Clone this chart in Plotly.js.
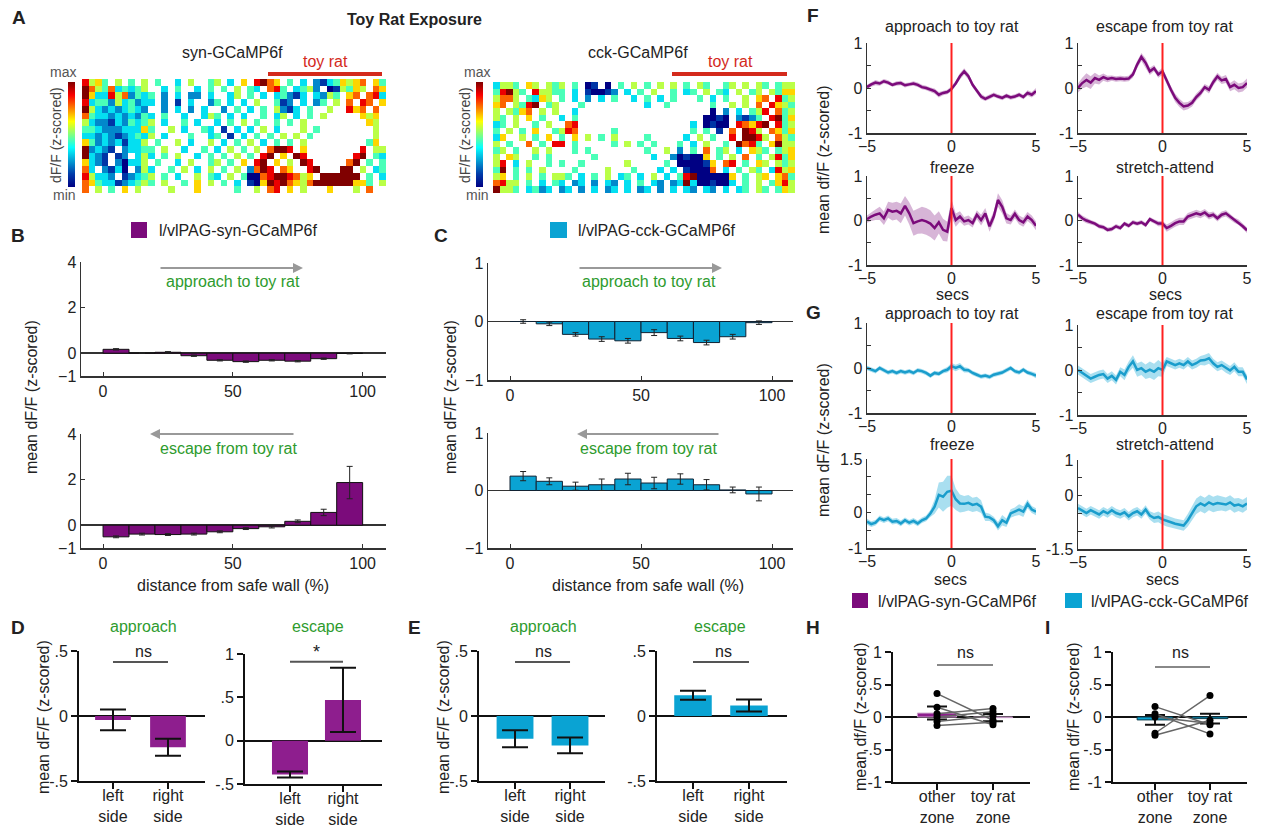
<!DOCTYPE html>
<html><head><meta charset="utf-8">
<script src="https://cdn.plot.ly/plotly-3.0.1.min.js"></script>
<style>html,body{margin:0;padding:0;background:#fff}#chart{width:1270px;height:827px}</style>
</head><body><div id="chart"></div>
<script>
// ---------------- DATA ----------------
// Panel A heatmaps: one string per arena row, one char per cell ('.' = not visited, 0..9 = low..high dF/F)
const SYN_ROWS = [
"8564.5.4.5 .4..3.5..4 5.3.6.8976 .4.3.21346 567.64",
"9754734345 ..3.4..3.4 .4.5.43.78 4.3452.015 465.76",
"9633857243 4.2.3.22.3 ..35.4.3.3 4213.3254. 67.783",
"8344253423 3.2.1.3..2 4.3.3.5..4 12.3.24.5. 7.87.6",
"9532323432 ..2.3.2.3. .2.4.3.4.5 213.4..5.. 867.7.",
"7433232324 3.4..3..35 4.3.3..4.3 5.3.4.5... ..656.",
"5322132434 5.3..4.3.. 3.4.5.4..4 .4.5...... ...65.",
"4432223336 4..5.3..43 .1.3.3.5.3 ...5.4.... ....5.",
"3323212343 5.3...4..3 4.1.3.4.4. 5.5.4..... ....5.",
"6423231335 .4..5.3..5 .3.4.5.3.4 .4.5...... ...46.",
"92321.2334 4.5..3..4. 3.5.4.5.79 98.6...... ..8.55",
"9321.12.35 3.4.5..3.4 .4.5.4.89. 6.98...... .89.43",
"6321.20335 .4..3.5..4 5.4.6.89.6 .5.98..... 79.4.4",
"73.2130.25 3..4.5.3.5 .4.5.2798. 76..89...9 9.5.34",
"85332.1234 5.4.3..5.4 3.5.400789 98756.9999 99.4.3",
"7643312345 4.5..4.6.5 .4.3.10698 9765799999 9664.5",
"7.5.4.6.5. ...5...6.. ...4..5.78 .6.5...6.. .5.7.."
];
const CCK_ROWS = [
"3554.65.54 5.4.01.0.4 .5.4.5.5.4 .54..45.5. 54.455",
"48954.8554 4.3.10012. 3.4.5..4.3 4.5.43.5.4 5.5466",
"5775.4365. 4.3.2.3.4. .3.4.3.4.. .4.3.4..5. 67.845",
"67.5489.45 ...4...... ...3..4... ...4..5.5. 7.8654",
"5.5467.5.5 ..3....... .......... ...0.2.3.4 58.745",
"54.5.6.4.. 3.4....... .......... ..0010.212 4.8946",
"34.5..4.5. .78....... .......... 3.0100.876 89.845",
"4.5.4.6..4 587.....4. .......... 4.4.1.7.98 5.7646",
"36..5.4.6. 4.6.5.4.5. ...4.....3 .5.4..8.99 85.754",
"5.4..7.4.8 8.4.....4. 5.4.4...4. 3.5..4.978 4.6955",
"45.4..5.5. ..4.4..... ...4..5.2. 4.7.45.3.6 54.456",
"5.65..4.4. .....4.... ....3..201 006.4.5.7. 4.5846",
"58.3.5..4. 4..4...... 5.....4.00 0016.78.4. 65.545",
"49.4.4.5.. ..4....5.. .4...3.3.1 0007.3.4.5 4.3856",
"56.4.5.4.5 54.3.4.5.3 4.3.5.3.48 9000006.4. 56.674",
"7855.4.3.4 3.23.2.32. 3.4.32.239 3001003.4. 5.4685",
"9554.3423. 23.2.3.23. 3.23.2.3.3 2.32.3.34. 54.465"
];

// Panels B / C: distance bins (% from safe wall)
const BIN_CENTERS = [5,15,25,35,45,55,65,75,85,95];
const B_APPROACH = [0.17,0.01,0.04,-0.11,-0.31,-0.37,-0.31,-0.35,-0.24,-0.01];
const B_APPROACH_ERR = [0.03,0.02,0.03,0.03,0.03,0.03,0.03,0.03,0.03,0.02];
const B_ESCAPE = [-0.51,-0.39,-0.41,-0.39,-0.29,-0.15,-0.07,0.17,0.56,1.87];
const B_ESCAPE_ERR = [0.04,0.04,0.04,0.04,0.04,0.04,0.05,0.06,0.14,0.71];
const C_APPROACH = [0.0,-0.04,-0.22,-0.30,-0.33,-0.19,-0.29,-0.36,-0.26,-0.02];
const C_APPROACH_ERR = [0.03,0.03,0.03,0.04,0.04,0.05,0.04,0.04,0.04,0.03];
const C_ESCAPE = [0.25,0.16,0.075,0.10,0.20,0.13,0.20,0.10,0.01,-0.06];
const C_ESCAPE_ERR = [0.08,0.06,0.07,0.10,0.10,0.10,0.09,0.09,0.05,0.12];

// Panels D / E
const SIDE_LABELS = ['left<br>side','right<br>side'];
const D_APPROACH = [-0.03,-0.24];  const D_APPROACH_ERR = [0.08,0.065];
const D_ESCAPE = [-0.39,0.47];     const D_ESCAPE_ERR = [0.035,0.37];
const E_APPROACH = [-0.175,-0.226]; const E_APPROACH_ERR = [0.065,0.06];
const E_ESCAPE = [0.16,0.08];      const E_ESCAPE_ERR = [0.035,0.046];

// Panels F / G: peri-event traces
const TIME = [-5,-4.75,-4.5,-4.25,-4,-3.75,-3.5,-3.25,-3,-2.75,-2.5,-2.25,-2,-1.75,-1.5,-1.25,-1,-0.75,-0.5,-0.25,0,0.25,0.5,0.75,1,1.25,1.5,1.75,2,2.25,2.5,2.75,3,3.25,3.5,3.75,4,4.25,4.5,4.75,5];
const F_APPROACH = [0.02,0.08,0.12,0.10,0.15,0.12,0.07,0.10,0.11,0.06,0.08,0.10,0.07,0.02,0.00,-0.04,-0.07,-0.15,-0.11,-0.09,-0.02,0.10,0.26,0.37,0.26,0.07,-0.07,-0.19,-0.24,-0.20,-0.15,-0.19,-0.22,-0.17,-0.21,-0.19,-0.15,-0.20,-0.11,-0.15,-0.07];
const F_APPROACH_SEM = [0.05,0.05,0.06,0.05,0.05,0.05,0.04,0.05,0.05,0.05,0.04,0.05,0.05,0.05,0.05,0.05,0.06,0.06,0.05,0.05,0.06,0.06,0.07,0.07,0.07,0.06,0.06,0.06,0.05,0.05,0.05,0.05,0.05,0.05,0.05,0.05,0.05,0.05,0.06,0.06,0.07];
const F_ESCAPE = [0.00,0.11,0.18,0.12,0.22,0.18,0.24,0.20,0.22,0.20,0.21,0.20,0.21,0.30,0.52,0.69,0.56,0.37,0.44,0.30,0.37,0.15,-0.04,-0.22,-0.33,-0.41,-0.39,-0.33,-0.20,-0.11,0.02,-0.04,0.13,0.26,0.17,0.20,0.02,0.07,0.00,0.02,0.11];
const F_ESCAPE_SEM = [0.10,0.12,0.15,0.14,0.12,0.10,0.08,0.07,0.06,0.06,0.06,0.06,0.06,0.07,0.08,0.09,0.10,0.08,0.07,0.07,0.08,0.08,0.08,0.09,0.09,0.09,0.08,0.08,0.08,0.08,0.07,0.08,0.08,0.08,0.08,0.09,0.09,0.10,0.10,0.10,0.10];
const F_FREEZE = [0.03,0.09,0.13,0.16,0.05,0.24,0.20,0.22,0.16,0.33,0.16,-0.06,-0.02,0.01,-0.02,-0.07,-0.17,-0.04,-0.21,-0.25,0.28,0.01,0.09,-0.02,0.01,-0.06,0.13,0.01,0.16,-0.13,0.09,0.46,0.31,0.05,0.01,0.15,0.01,-0.04,0.09,0.01,-0.12];
const F_FREEZE_SEM = [0.08,0.10,0.12,0.15,0.15,0.18,0.20,0.20,0.22,0.22,0.25,0.28,0.28,0.30,0.30,0.30,0.28,0.25,0.25,0.22,0.20,0.15,0.12,0.10,0.10,0.10,0.10,0.12,0.12,0.12,0.12,0.15,0.15,0.12,0.10,0.10,0.10,0.10,0.10,0.10,0.10];
const F_STRETCH = [0.13,0.05,0.00,-0.04,-0.07,-0.13,-0.15,-0.21,-0.19,-0.13,-0.17,-0.07,-0.12,-0.04,-0.07,-0.04,-0.10,0.03,-0.02,-0.07,-0.07,-0.17,-0.12,-0.06,-0.02,-0.02,0.09,0.13,0.16,0.13,0.18,0.10,0.13,0.05,0.13,0.16,0.09,0.01,-0.04,-0.13,-0.22];
const F_STRETCH_SEM = [0.06,0.06,0.06,0.05,0.05,0.05,0.05,0.05,0.05,0.05,0.05,0.05,0.05,0.05,0.05,0.05,0.05,0.05,0.05,0.06,0.06,0.08,0.08,0.08,0.08,0.08,0.08,0.08,0.08,0.08,0.08,0.08,0.07,0.07,0.07,0.07,0.06,0.06,0.06,0.06,0.06];
const G_APPROACH = [0.00,-0.04,-0.07,0.00,-0.05,-0.10,-0.07,-0.11,-0.07,-0.10,-0.07,-0.11,-0.05,-0.07,-0.11,-0.17,-0.11,-0.13,-0.07,-0.04,0.04,0.00,0.04,-0.04,-0.05,-0.11,-0.15,-0.19,-0.17,-0.20,-0.15,-0.13,-0.10,-0.05,0.00,-0.07,-0.10,-0.04,-0.10,-0.13,-0.17];
const G_APPROACH_SEM = [0.05,0.05,0.05,0.05,0.05,0.05,0.05,0.05,0.05,0.05,0.05,0.05,0.05,0.05,0.05,0.05,0.05,0.05,0.05,0.06,0.07,0.07,0.07,0.06,0.05,0.05,0.05,0.05,0.05,0.05,0.05,0.05,0.05,0.05,0.05,0.05,0.05,0.05,0.05,0.05,0.06];
const G_ESCAPE = [0.00,-0.07,-0.13,-0.19,-0.15,-0.11,-0.09,-0.19,-0.13,-0.22,-0.04,-0.11,0.07,0.19,0.00,0.04,-0.04,0.01,-0.04,0.04,0.00,0.19,0.15,0.11,0.15,0.11,0.19,0.11,0.15,0.21,0.22,0.26,0.15,0.07,0.11,0.04,-0.01,0.07,-0.04,-0.04,-0.21];
const G_ESCAPE_SEM = [0.10,0.10,0.10,0.10,0.10,0.10,0.10,0.10,0.10,0.10,0.10,0.12,0.12,0.14,0.15,0.15,0.16,0.18,0.18,0.18,0.15,0.10,0.10,0.10,0.10,0.10,0.10,0.10,0.10,0.10,0.12,0.12,0.10,0.10,0.10,0.10,0.10,0.10,0.10,0.10,0.10];
const G_FREEZE = [-0.26,-0.33,-0.29,-0.17,-0.22,-0.17,-0.26,-0.24,-0.31,-0.22,-0.29,-0.24,-0.31,-0.22,-0.17,-0.03,0.16,0.49,0.44,0.58,0.61,0.37,0.25,0.24,0.27,0.21,0.24,0.16,-0.12,-0.14,-0.22,-0.39,-0.22,-0.29,-0.03,0.02,0.08,0.02,0.24,0.08,0.02];
const G_FREEZE_SEM = [0.08,0.08,0.08,0.08,0.08,0.08,0.08,0.08,0.08,0.08,0.08,0.08,0.08,0.08,0.08,0.10,0.20,0.35,0.42,0.45,0.42,0.30,0.25,0.22,0.22,0.20,0.20,0.18,0.12,0.10,0.10,0.12,0.15,0.12,0.12,0.12,0.15,0.15,0.12,0.10,0.10];
const G_STRETCH = [-0.35,-0.41,-0.49,-0.41,-0.47,-0.53,-0.44,-0.50,-0.41,-0.49,-0.53,-0.47,-0.58,-0.49,-0.44,-0.53,-0.39,-0.56,-0.63,-0.60,-0.67,-0.72,-0.75,-0.79,-0.81,-0.84,-0.69,-0.49,-0.30,-0.22,-0.28,-0.19,-0.25,-0.21,-0.22,-0.25,-0.19,-0.28,-0.25,-0.30,-0.22];
const G_STRETCH_SEM = [0.12,0.12,0.12,0.12,0.12,0.12,0.12,0.12,0.12,0.12,0.12,0.12,0.12,0.12,0.12,0.12,0.12,0.12,0.14,0.15,0.15,0.15,0.15,0.15,0.15,0.15,0.18,0.20,0.22,0.22,0.22,0.22,0.22,0.22,0.20,0.20,0.20,0.20,0.18,0.18,0.18];

// Panels H / I
const ZONE_LABELS = ['other<br>zone','toy rat<br>zone'];
const H_MEAN = [0.06,-0.01]; const H_ERR = [0.10,0.055];
const H_OTHER = [0.36,0.15,0.05,0.00,-0.07,-0.13];
const H_TOY = [-0.05,-0.12,0.13,0.08,0.02,-0.08];
const I_MEAN = [-0.045,-0.025]; const I_ERR = [0.075,0.075];
const I_OTHER = [0.16,0.05,0.00,-0.25,-0.28];
const I_TOY = [-0.12,-0.26,-0.10,0.33,-0.05];

// ---------------- STYLE / LAYOUT ----------------
const W = 1270, H = 827;
const FONT = 'Liberation Sans, Arial, Helvetica, sans-serif';
const PURPLE = '#7b0b7b', PURPLE2 = '#8e1e8e', CYAN = '#0aa3d3', GREEN = '#2e9b2e', TXT = '#222';

const layout = {width:W, height:H, margin:{l:0,r:0,t:0,b:0}, paper_bgcolor:'#fff', plot_bgcolor:'rgba(0,0,0,0)',
  showlegend:false, font:{family:FONT, size:16, color:TXT}, annotations:[], shapes:[]};
const traces = [];

function sfx(n){ return n===1 ? '' : String(n); }
function ax(n, x0, x1, y0, y1, xo, yo){
  const s = sfx(n);
  layout['xaxis'+s] = Object.assign({domain:[x0/W, x1/W], anchor:'y'+s, fixedrange:true}, xo);
  layout['yaxis'+s] = Object.assign({domain:[1-y1/H, 1-y0/H], anchor:'x'+s, fixedrange:true}, yo);
}
function ref(n){ const s = sfx(n); return {xaxis:'x'+s, yaxis:'y'+s}; }
function T(text, x, y, o){
  o = o || {};
  layout.annotations.push(Object.assign({text:text, x:x/W, y:1-y/H, xref:'paper', yref:'paper', showarrow:false,
    xanchor:'center', yanchor:'middle', font:{family:FONT, size:o.size||16, color:o.color||TXT}}, o.extra||{}));
}
function arrow(x0, x1, y){
  layout.annotations.push({text:'', x:x1/W, y:1-y/H, xref:'paper', yref:'paper', showarrow:true,
    ax:x0-x1, ay:0, axref:'pixel', ayref:'pixel', arrowhead:2, arrowsize:1, arrowwidth:2, arrowcolor:'#999'});
}
function rect(x0, x1, y0, y1, color){
  layout.shapes.push({type:'rect', xref:'paper', yref:'paper', x0:x0/W, x1:x1/W, y0:1-y1/H, y1:1-y0/H, fillcolor:color, line:{width:0}});
}
function pline(x0, x1, y, color, w){
  layout.shapes.push({type:'line', xref:'paper', yref:'paper', x0:x0/W, x1:x1/W, y0:1-y/H, y1:1-y/H, line:{color:color, width:w}});
}

const mX = {showline:true, linecolor:'#333', linewidth:1.5, ticks:'inside', ticklen:4, tickcolor:'#333', showgrid:false, zeroline:false, tickfont:{family:FONT,size:16,color:TXT}};
const mY = Object.assign({}, mX);
const gX = {showline:true, linecolor:'#111', linewidth:2, ticks:'outside', ticklen:6, tickwidth:2, tickcolor:'#111', showgrid:false, zeroline:false, tickfont:{family:FONT,size:16,color:TXT}};
const gY = Object.assign({}, gX, {zeroline:true, zerolinecolor:'#111', zerolinewidth:2});
function M(base, extra){ return Object.assign({}, base, extra); }

// ---- Panel A: heatmaps ----
function parseGrid(rows){ return rows.map(r => r.replace(/ /g,'').split('').map(c => c==='.' ? null : Number(c))); }
const JET = [[0,'rgb(0,0,131)'],[0.125,'rgb(0,60,170)'],[0.375,'rgb(5,255,255)'],[0.625,'rgb(255,255,0)'],[0.875,'rgb(250,0,0)'],[1,'rgb(128,0,0)']];
function heat(n, rows, cbx){
  const z = parseGrid(rows);
  traces.push(Object.assign({type:'heatmap', z:z, colorscale:JET, zmin:0, zmax:9, hoverinfo:'skip', showscale:true,
    colorbar:{x:cbx/W, xanchor:'left', xpad:0, y:1-82/H, yanchor:'top', ypad:0, len:105/H, lenmode:'fraction',
      thickness:7, thicknessmode:'pixels', showticklabels:false, ticks:'', outlinewidth:0}}, ref(n)));
}
ax(1, 82, 386, 79, 193, {visible:false, range:[-0.5,45.5]}, {visible:false, range:[16.5,-0.5]});
ax(2, 493, 795, 82, 193, {visible:false, range:[-0.5,45.5]}, {visible:false, range:[16.5,-0.5]});
heat(1, SYN_ROWS, 68);
heat(2, CCK_ROWS, 476);

T('<b>A</b>', 19, 17, {size:19});
T('<b>Toy Rat Exposure</b>', 414, 20);
T('syn-GCaMP6f', 232, 52);
T('cck-GCaMP6f', 638, 52);
T('toy rat', 325, 62, {color:'#d42a1c'});
T('toy rat', 730, 62, {color:'#d42a1c'});
pline(268, 382, 74, '#d42a1c', 4);
pline(672, 787, 74, '#d42a1c', 4);
T('max', 63, 72, {size:14, color:'#555'}); T('min', 64, 195, {size:14, color:'#555'});
T('max', 477, 72, {size:14, color:'#555'}); T('min', 477, 195, {size:14, color:'#555'});
T('dF/F (z-scored)', 56, 135, {size:14, color:'#444', extra:{textangle:-90}});
T('dF/F (z-scored)', 465, 135, {size:14, color:'#444', extra:{textangle:-90}});

// ---- Panels B / C ----
const distX = {range:[-8.5,109], tickvals:[0,50,100]};
ax(3, 81, 386, 262, 376, M(mX, distX), M(mY, {range:[-1,4], tickvals:[-1,0,2,4], zeroline:true, zerolinecolor:'#333', zerolinewidth:1.5}));
ax(4, 81, 386, 434, 548, M(mX, distX), M(mY, {range:[-1,4], tickvals:[-1,0,2,4], zeroline:true, zerolinecolor:'#333', zerolinewidth:1.5}));
ax(5, 488, 793, 263, 380, M(mX, {range:[-8.4,108], tickvals:[0,50,100]}), M(mY, {range:[-1,1], tickvals:[-1,0,1], zeroline:true, zerolinecolor:'#333', zerolinewidth:1.5}));
ax(6, 488, 793, 433, 548, M(mX, {range:[-8.4,108], tickvals:[0,50,100]}), M(mY, {range:[-1,1], tickvals:[-1,0,1], zeroline:true, zerolinecolor:'#333', zerolinewidth:1.5}));
function distBars(n, y, err, color, edge){
  traces.push(Object.assign({type:'bar', x:BIN_CENTERS, y:y, width:10, marker:{color:color, line:{color:edge, width:1}},
    error_y:{type:'data', array:err, visible:true, color:'#222', thickness:1, width:3}, hoverinfo:'skip'}, ref(n)));
}
distBars(3, B_APPROACH, B_APPROACH_ERR, PURPLE, '#111');
distBars(4, B_ESCAPE, B_ESCAPE_ERR, PURPLE, '#111');
distBars(5, C_APPROACH, C_APPROACH_ERR, CYAN, '#123');
distBars(6, C_ESCAPE, C_ESCAPE_ERR, CYAN, '#123');

T('<b>B</b>', 18, 235, {size:19});
rect(131, 147, 222, 238, PURPLE);
T('l/vlPAG-syn-GCaMP6f', 157, 230, {extra:{xanchor:'left'}});
arrow(159, 303, 268); T('approach to toy rat', 233, 281, {color:GREEN});
arrow(295, 150, 434); T('escape from toy rat', 229, 448, {color:GREEN});
T('mean dF/F (z-scored)', 32, 397, {extra:{textangle:-90}});
T('distance from safe wall (%)', 233, 585);

T('<b>C</b>', 441, 235, {size:19});
rect(550, 567, 222, 238, CYAN);
T('l/vlPAG-cck-GCaMP6f', 576, 230, {extra:{xanchor:'left'}});
arrow(578, 722, 268); T('approach to toy rat', 649, 281, {color:GREEN});
arrow(720, 577, 434); T('escape from toy rat', 649, 448, {color:GREEN});
T('mean dF/F (z-scored)', 451, 397, {extra:{textangle:-90}});
T('distance from safe wall (%)', 648, 585);

// ---- Panels F / G ----
const tX = {range:[-5,5], tickvals:[-5,0,5], ticklabelstandoff:-2};
const yF = {range:[-1,1], tickvals:[-1,-0.5,0,0.5,1], ticktext:['-1','','0','','1']};
ax(7, 867, 1036, 43, 133, M(mX, tX), M(mY, yF));
ax(8, 1078, 1247, 43, 133, M(mX, tX), M(mY, yF));
ax(9, 867, 1036, 176, 265, M(mX, tX), M(mY, yF));
ax(10, 1078, 1247, 176, 265, M(mX, tX), M(mY, yF));
ax(11, 867, 1036, 323, 413, M(mX, tX), M(mY, yF));
ax(12, 1078, 1247, 325, 415, M(mX, tX), M(mY, yF));
ax(13, 867, 1036, 459, 548, M(mX, tX), M(mY, {range:[-1,1.5], tickvals:[-1,-0.5,0,0.5,1,1.5], ticktext:['-1','','0','','','1.5']}));
ax(14, 1078, 1247, 460, 549, M(mX, tX), M(mY, {range:[-1.5,1], tickvals:[-1.5,-1,-0.5,0,0.5,1], ticktext:['-1.5','','','0','','1']}));

function trace(n, mean, sem, line, band){
  const up = mean.map((m,i) => m + sem[i]);
  const lo = mean.map((m,i) => m - sem[i]);
  traces.push(Object.assign({type:'scatter', mode:'lines', x:TIME.concat(TIME.slice().reverse()),
    y:up.concat(lo.slice().reverse()), fill:'toself', fillcolor:band, line:{width:0}, hoverinfo:'skip'}, ref(n)));
  traces.push(Object.assign({type:'scatter', mode:'lines', x:TIME, y:mean, line:{color:line, width:2.5}, hoverinfo:'skip'}, ref(n)));
  const s = sfx(n);
  layout.shapes.push({type:'line', xref:'x'+s, yref:'y'+s+' domain', x0:0, x1:0, y0:0, y1:1, line:{color:'#ff2020', width:2}});
}
const FB = 'rgba(123,11,123,0.30)', GB = 'rgba(10,163,211,0.35)';
trace(7, F_APPROACH, F_APPROACH_SEM, PURPLE, FB);
trace(8, F_ESCAPE, F_ESCAPE_SEM, PURPLE, FB);
trace(9, F_FREEZE, F_FREEZE_SEM, PURPLE, FB);
trace(10, F_STRETCH, F_STRETCH_SEM, PURPLE, FB);
trace(11, G_APPROACH, G_APPROACH_SEM, '#1a9dcc', GB);
trace(12, G_ESCAPE, G_ESCAPE_SEM, '#1a9dcc', GB);
trace(13, G_FREEZE, G_FREEZE_SEM, '#1a9dcc', GB);
trace(14, G_STRETCH, G_STRETCH_SEM, '#1a9dcc', GB);

T('<b>F</b>', 813, 15, {size:19});
T('approach to toy rat', 952, 27); T('escape from toy rat', 1165, 27);
T('freeze', 952, 167); T('stretch-attend', 1165, 167);
T('secs', 952, 294); T('secs', 1165, 294);
T('mean df/F (z-scored)', 823, 160, {extra:{textangle:-90}});
T('<b>G</b>', 813, 312, {size:19});
T('approach to toy rat', 952, 313); T('escape from toy rat', 1165, 313);
T('freeze', 952, 444); T('stretch-attend', 1165, 444);
T('secs', 950, 579); T('secs', 1162, 579);
T('mean dF/F (z-scored)', 823, 440, {extra:{textangle:-90}});
rect(852, 868, 593, 608, PURPLE);
T('l/vlPAG-syn-GCaMP6f', 876, 601, {extra:{xanchor:'left'}});
rect(1065, 1082, 593, 608, CYAN);
T('l/vlPAG-cck-GCaMP6f', 1089, 601, {extra:{xanchor:'left'}});

// ---- Panels D / E ----
function sideBars(n, y, err, color, w){
  traces.push(Object.assign({type:'bar', x:[0,1], y:y, width:w, marker:{color:color, line:{width:0}},
    error_y:{type:'data', array:err, visible:true, color:'#111', thickness:2, width:13}, hoverinfo:'skip'}, ref(n)));
}
const catX = {tickvals:[0,1], ticktext:SIDE_LABELS, ticklabelstandoff:-7};
const y5 = {range:[-0.5,0.5], tickvals:[-0.5,0,0.5], ticktext:['-.5','0','.5']};
ax(15, 79, 205, 651, 781, M(gX, M(catX, {range:[-0.618,1.673]})), M(gY, y5));
ax(16, 245, 382, 654, 784, M(gX, M(catX, {range:[-0.849,1.736]})), M(gY, {range:[-0.5,1], tickvals:[-0.5,0,0.5,1], ticktext:['-.5','0','.5','1']}));
ax(17, 479, 605, 651, 781, M(gX, M(catX, {range:[-0.655,1.636]})), M(gY, y5));
ax(18, 657, 787, 651, 781, M(gX, M(catX, {range:[-0.643,1.679]})), M(gY, y5));
sideBars(15, D_APPROACH, D_APPROACH_ERR, PURPLE2, 0.65);
sideBars(16, D_ESCAPE, D_ESCAPE_ERR, PURPLE2, 0.68);
sideBars(17, E_APPROACH, E_APPROACH_ERR, CYAN, 0.67);
sideBars(18, E_ESCAPE, E_ESCAPE_ERR, CYAN, 0.67);
function sig(n, y, color){
  const s = sfx(n);
  layout.shapes.push({type:'line', xref:'x'+s, yref:'y'+s, x0:0, x1:1, y0:y, y1:y, line:{color:color, width:2}});
}
sig(15, 0.415, '#555'); sig(16, 0.91, '#555'); sig(17, 0.415, '#555'); sig(18, 0.415, '#555');

T('<b>D</b>', 18, 627, {size:19});
T('approach', 143, 626, {color:GREEN}); T('escape', 318, 626, {color:GREEN});
T('ns', 143, 651); T('*', 316, 652, {size:18});
T('mean dF/F (z-scored)', 43, 717, {extra:{textangle:-90}});
T('<b>E</b>', 415, 627, {size:19});
T('approach', 543, 626, {color:GREEN}); T('escape', 720, 626, {color:GREEN});
T('ns', 543, 651); T('ns', 723, 651);
T('mean dF/F (z-scored)', 443, 717, {extra:{textangle:-90}});

// ---- Panels H / I ----
const yHI = {range:[-1,1], tickvals:[-1,-0.5,0,0.5,1], ticktext:['-1','-.5','0','.5','1']};
ax(19, 893, 1030, 652, 782, M(gX, {tickvals:[0,1], ticktext:ZONE_LABELS, ticklabelstandoff:-7, range:[-0.786,1.661]}), M(gY, yHI));
ax(20, 1113, 1247, 652, 782, M(gX, {tickvals:[0,1], ticktext:ZONE_LABELS, ticklabelstandoff:-7, range:[-0.764,1.673]}), M(gY, yHI));
function zoneBars(n, y, err, color, edge, w){
  traces.push(Object.assign({type:'bar', x:[0,1], y:y, width:w, marker:{color:color, line:{color:edge, width:1}},
    error_y:{type:'data', array:err, visible:true, color:'#111', thickness:2, width:10}, hoverinfo:'skip'}, ref(n)));
}
function pairs(n, a, b){
  for (let i = 0; i < a.length; i++){
    traces.push(Object.assign({type:'scatter', mode:'lines+markers', x:[0,1], y:[a[i], b[i]],
      line:{color:'#666', width:1.5}, marker:{color:'#000', size:7}, hoverinfo:'skip', cliponaxis:false}, ref(n)));
  }
}
zoneBars(19, H_MEAN, H_ERR, PURPLE2, '#c9a0c9', 0.7);
pairs(19, H_OTHER, H_TOY);
zoneBars(20, I_MEAN, I_ERR, CYAN, '#0a3b4a', 0.65);
pairs(20, I_OTHER, I_TOY);
sig(19, 0.8, '#888'); sig(20, 0.77, '#888');
T('<b>H</b>', 813, 627, {size:19}); T('<b>I</b>', 1047, 627, {size:19});
T('ns', 965, 652); T('ns', 1180, 652);
T('mean df/F (z-scored)', 860, 717, {extra:{textangle:-90}});
T('mean df/F (z-scored)', 1073, 717, {extra:{textangle:-90}});

Plotly.newPlot('chart', traces, layout, {staticPlot:true, displayModeBar:false});
</script></body></html>
